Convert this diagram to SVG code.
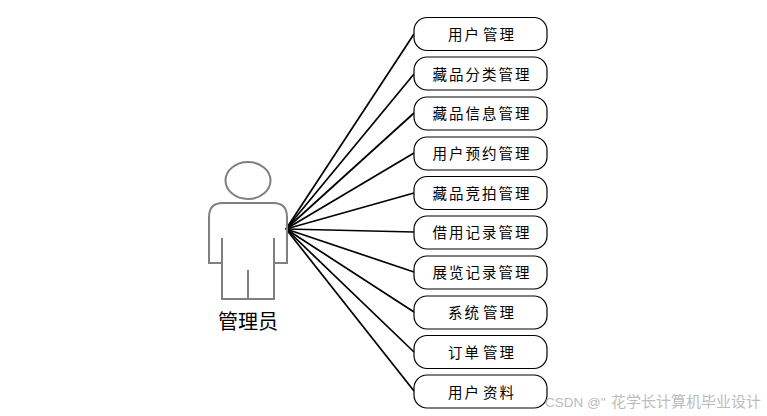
<svg xmlns="http://www.w3.org/2000/svg" width="767" height="416" viewBox="0 0 767 416">
<style>
text{font-family:"Liberation Sans","Noto Sans CJK SC",sans-serif}
.b{fill:#fff;stroke:#000;stroke-width:1.2}
.t{font-size:14.5px;text-anchor:middle;fill:#000;letter-spacing:2px;word-spacing:-4px}
.c line{stroke:#000;stroke-width:1.7}
.a{fill:none;stroke:#808080;stroke-width:2}
</style>
<rect width="767" height="416" fill="#fff"/>
<g id="connectors" class="c">
<line x1="286" y1="229" x2="414" y2="34"/>
<line x1="286" y1="229" x2="414" y2="74"/>
<line x1="286" y1="229" x2="414" y2="113"/>
<line x1="286" y1="229" x2="414" y2="153"/>
<line x1="286" y1="229" x2="414" y2="193"/>
<line x1="286" y1="229" x2="414" y2="232"/>
<line x1="286" y1="229" x2="414" y2="272"/>
<line x1="286" y1="229" x2="414" y2="312"/>
<line x1="286" y1="229" x2="414" y2="352"/>
<line x1="286" y1="229" x2="414" y2="391"/>
</g>
<g id="actor">
<ellipse class="a" cx="248" cy="180.500" rx="22.500" ry="18.500"/>
<path class="a" d="M222 263H209V217Q209 203 223 203H273Q287 203 287 217V263H274M222 238V299H274V238M248 270V299"/>
<text x="248" y="329" font-size="20" text-anchor="middle">管理员</text>
</g>
<g id="n1"><rect class="b" x="414" y="17.500" width="133" height="33" rx="13"/><text class="t" x="482" y="39.500">用户 管理</text></g>
<g id="n2"><rect class="b" x="414" y="57" width="133" height="33" rx="13"/><text class="t" x="482" y="79.500">藏品分类管理</text></g>
<g id="n3"><rect class="b" x="414" y="97" width="133" height="33" rx="13"/><text class="t" x="482" y="118.500">藏品信息管理</text></g>
<g id="n4"><rect class="b" x="414" y="137" width="133" height="33" rx="13"/><text class="t" x="482" y="158.500">用户预约管理</text></g>
<g id="n5"><rect class="b" x="414" y="176.500" width="133" height="33" rx="13"/><text class="t" x="482" y="198.500">藏品竞拍管理</text></g>
<g id="n6"><rect class="b" x="414" y="216" width="133" height="33" rx="13"/><text class="t" x="482" y="237.500">借用记录管理</text></g>
<g id="n7"><rect class="b" x="414" y="256" width="133" height="33" rx="13"/><text class="t" x="482" y="277.500">展览记录管理</text></g>
<g id="n8"><rect class="b" x="414" y="296" width="133" height="33" rx="13"/><text class="t" x="482" y="317.500">系统 管理</text></g>
<g id="n9"><rect class="b" x="414" y="335.500" width="133" height="33" rx="13"/><text class="t" x="482" y="357.500">订单 管理</text></g>
<g id="n10"><rect class="b" x="414" y="375" width="133" height="33" rx="13"/><text class="t" x="482" y="397.500">用户 资料</text></g>
<text x="545" y="407" font-size="13.500" fill="#bcbcbc">CSDN @" <tspan x="611" font-size="15">花学长计算机毕业设计</tspan></text>
</svg>
